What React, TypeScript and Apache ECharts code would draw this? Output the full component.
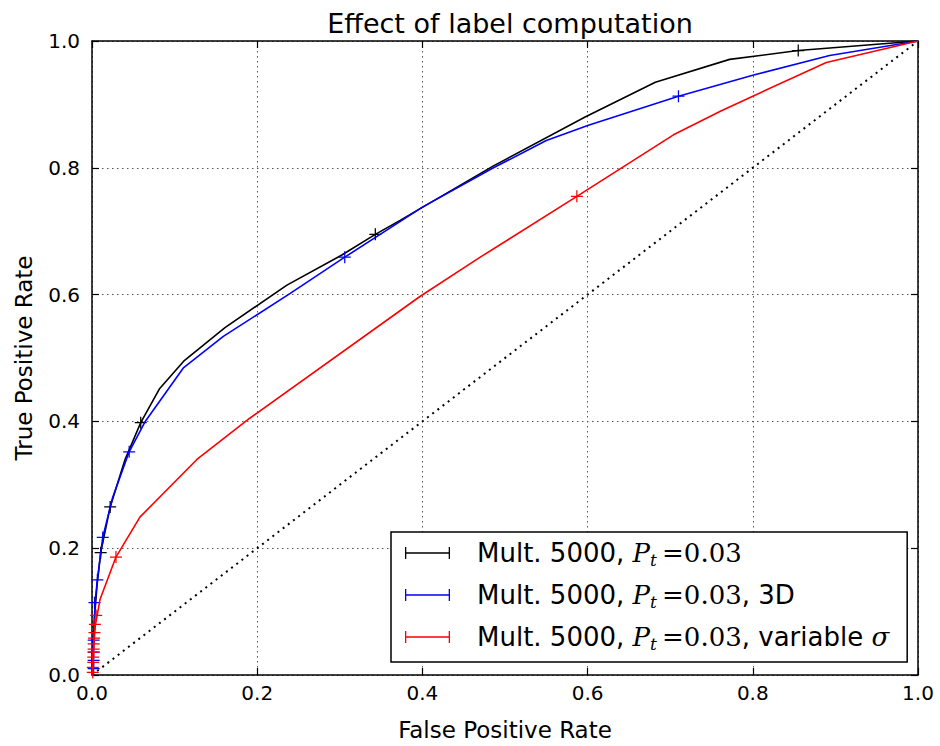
import React, { useEffect, useRef } from "react";
import * as echarts from "echarts";

const titleText = "Effect of label computation";
const xAxisName = "False Positive Rate";
const yAxisName = "True Positive Rate";
const axisTicks = [0, 0.2, 0.4, 0.6, 0.8, 1.0];

const seriesKeys = ["black", "blue", "red"];
const seriesColors = ["#000000", "#0000ff", "#ff0000"];
const legendSuffix = ["", ", 3D", ", variable σ"];

const blackCurve: number[][] = [
  [0, 0], [0.001, 0.03], [0.003, 0.09], [0.006, 0.14], [0.0105, 0.193], [0.022, 0.265],
  [0.04, 0.34], [0.059, 0.398], [0.082, 0.452], [0.111, 0.495], [0.161, 0.548],
  [0.236, 0.615], [0.302, 0.662], [0.343, 0.695], [0.373, 0.717], [0.486, 0.803],
  [0.597, 0.88], [0.682, 0.935], [0.772, 0.971], [0.855, 0.985], [1, 1],
];
const blueCurve: number[][] = [
  [0, 0], [0.0005, 0.03], [0.0025, 0.078], [0.004, 0.119], [0.0065, 0.15], [0.013, 0.217],
  [0.025, 0.28], [0.045, 0.352], [0.064, 0.399], [0.111, 0.485], [0.159, 0.534],
  [0.24, 0.602], [0.306, 0.659], [0.4, 0.738], [0.486, 0.8], [0.55, 0.843],
  [0.601, 0.867], [0.71, 0.913], [0.8, 0.946], [0.893, 0.977], [1, 1],
];
const redCurve: number[][] = [
  [0, 0], [0.001, 0.03], [0.004, 0.078], [0.0097, 0.119], [0.029, 0.186], [0.058, 0.249],
  [0.127, 0.34], [0.191, 0.405], [0.397, 0.597], [0.47, 0.659], [0.587, 0.755],
  [0.704, 0.852], [0.762, 0.89], [0.8, 0.913], [0.889, 0.966], [1, 1],
];

const blackMarks: number[][] = [
  [0.0105, 0.193], [0.022, 0.265], [0.059, 0.398], [0.343, 0.695], [0.855, 0.985],
];
const blueMarks: number[][] = [
  [0.002, 0.01], [0.002, 0.023], [0.002, 0.036], [0.002, 0.055], [0.003, 0.114],
  [0.0065, 0.15], [0.013, 0.217], [0.045, 0.352], [0.306, 0.659], [0.71, 0.913],
];
const redMarks: number[][] = [
  [0.001, 0.004], [0.001, 0.012], [0.0015, 0.02], [0.0015, 0.028], [0.002, 0.036],
  [0.002, 0.041], [0.002, 0.049], [0.0025, 0.058], [0.003, 0.067], [0.0035, 0.08],
  [0.005, 0.094], [0.029, 0.186], [0.587, 0.755],
];
const diagonal: number[][] = [[0, 0], [1, 1]];

const curves = [blackCurve, blueCurve, redCurve];
const marks = [blackMarks, blueMarks, redMarks];

const plusSymbol = "path://M5.6,0h1.3v12.5h-1.3z M0,5.6h12.5v1.3h-12.5z";
const legendIcon = "path://M0,5.35h45v1.3h-45z M0,0h1.3v12h-1.3z M43.7,0h1.3v12h-1.3z";

export default function App() {
  const ref = useRef<HTMLDivElement>(null);
  useEffect(() => {
    document.body.style.margin = "0";
    const chart = echarts.init(ref.current!, null, { renderer: "svg" });
    const axisCommon = {
      type: "value",
      min: 0,
      max: 1,
      interval: 0.2,
      axisLine: { show: true, onZero: false, lineStyle: { color: "#000", width: 1.5 } },
      axisTick: { show: true, inside: true, length: 7, lineStyle: { color: "#000", width: 1.2 } },
    };
    const series: any[] = [];
    curves.forEach((c, i) => {
      series.push({
        name: seriesKeys[i],
        type: "line",
        data: c,
        showSymbol: false,
        symbol: "none",
        lineStyle: { color: seriesColors[i], width: 1.6 },
        itemStyle: { color: seriesColors[i] },
        z: 3 + i,
      });
    });
    marks.forEach((m, i) => {
      series.push({
        name: seriesKeys[i] + "_marks",
        type: "scatter",
        data: m,
        symbol: plusSymbol,
        symbolSize: 12,
        clip: true,
        itemStyle: { color: seriesColors[i], opacity: 1 },
        emphasis: { disabled: true },
        z: 3 + i,
      });
    });
    series.push({
      name: "diag",
      type: "line",
      data: diagonal,
      showSymbol: false,
      symbol: "none",
      lineStyle: { color: "#000", width: 2, type: [2, 4.5] },
      z: 2,
    });

    const rich = {
      g: { width: 22 },
      n: { fontFamily: "DejaVu Sans", fontSize: 26, color: "#000", lineHeight: 30 },
      p: { fontFamily: "DejaVu Serif", fontStyle: "italic", fontSize: 26, color: "#000", lineHeight: 30 },
      s: { fontFamily: "DejaVu Serif", fontStyle: "italic", fontSize: 17, color: "#000", lineHeight: 16, verticalAlign: "bottom" },
      m: { fontFamily: "DejaVu Serif", fontSize: 26, color: "#000", lineHeight: 30 },
    };

    chart.setOption({
      animation: false,
      backgroundColor: "#fff",
      title: {
        text: titleText,
        left: 505,
        textAlign: "center",
        top: 5,
        textStyle: { fontFamily: "DejaVu Sans", fontSize: 27, fontWeight: "normal", color: "#000" },
      },
      grid: { left: 92, right: 22, top: 41, bottom: 63 },
      legend: {
        left: 391,
        top: 532,
        orient: "vertical",
        selectedMode: false,
        backgroundColor: "#fff",
        borderColor: "#000",
        borderWidth: 1.5,
        padding: [8, 18, 10, 14],
        itemGap: 14,
        itemWidth: 45,
        itemHeight: 12,
        data: seriesKeys.map((k, i) => ({ name: k, icon: legendIcon, itemStyle: { color: seriesColors[i] } })),
        formatter: (name: string) => {
          const i = seriesKeys.indexOf(name);
          const suf = legendSuffix[i];
          let tail = "";
          if (suf === ", variable σ") tail = "{n|, variable }{p|σ}";
          else if (suf) tail = "{n|" + suf + "}";
          return "{g|}{n|Mult. 5000, }{p|P}{s|t}{m|\u2009=0.03}" + tail;
        },
        textStyle: { rich },
      },
      xAxis: [
        {
          ...axisCommon,
          position: "bottom",
          name: xAxisName,
          nameLocation: "middle",
          nameGap: 43,
          nameTextStyle: { fontFamily: "DejaVu Sans", fontSize: 23, color: "#000" },
          axisLabel: {
            show: true,
            margin: 8,
            fontFamily: "DejaVu Sans",
            fontSize: 20,
            color: "#000",
            formatter: (v: number) => (axisTicks.includes(Math.round(v * 10) / 10) ? v.toFixed(1) : ""),
          },
          splitLine: { show: true, lineStyle: { color: "#555", width: 1, type: [1.5, 3.5] } },
        },
        {
          ...axisCommon,
          position: "top",
          axisLabel: { show: false },
          splitLine: { show: false },
        },
      ],
      yAxis: [
        {
          ...axisCommon,
          position: "left",
          name: yAxisName,
          nameLocation: "middle",
          nameGap: 57,
          nameTextStyle: { fontFamily: "DejaVu Sans", fontSize: 23, color: "#000" },
          axisLabel: {
            show: true,
            margin: 12,
            fontFamily: "DejaVu Sans",
            fontSize: 20,
            color: "#000",
            formatter: (v: number) => v.toFixed(1),
          },
          splitLine: { show: true, lineStyle: { color: "#555", width: 1, type: [1.5, 3.5] } },
        },
        {
          ...axisCommon,
          position: "right",
          axisLabel: { show: false },
          splitLine: { show: false },
        },
      ],
      series,
    });
    return () => chart.dispose();
  }, []);
  return <div ref={ref} style={{ width: 940, height: 746 }} />;
}
